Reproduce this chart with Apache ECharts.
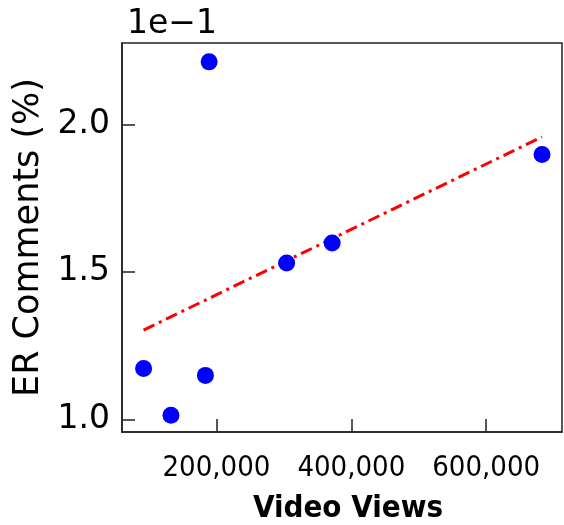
<!DOCTYPE html>
<html>
<head>
<meta charset="utf-8">
<script src="https://cdn.jsdelivr.net/npm/echarts@6/dist/echarts.min.js"></script>
<style>
  html, body { margin: 0; padding: 0; background: #fff; }
  #chart { width: 564px; height: 525px; }
</style>
</head>
<body>
<div id="chart"></div>
<script>
// Video views per video and the comment engagement rate (%)
const videoViews = [92000, 132600, 183700, 189200, 304100, 371600, 682800];
const erComments = [0.1172, 0.1014, 0.1149, 0.2212, 0.1530, 0.1598, 0.1898];

// Tick positions
const xTicks = [200000, 400000, 600000];
const yTicks = [0.10, 0.15, 0.20];

// Least-squares trend line across the observed view range
function linearFit(xs, ys) {
  const n = xs.length;
  const mx = xs.reduce((a, b) => a + b, 0) / n;
  const my = ys.reduce((a, b) => a + b, 0) / n;
  let sxy = 0, sxx = 0;
  for (let i = 0; i < n; i++) {
    sxy += (xs[i] - mx) * (ys[i] - my);
    sxx += (xs[i] - mx) * (xs[i] - mx);
  }
  const slope = sxy / sxx;
  return x => my + slope * (x - mx);
}
const fit = linearFit(videoViews, erComments);
const xLo = Math.min(...videoViews), xHi = Math.max(...videoViews);
const trend = [[xLo, fit(xLo)], [xHi, fit(xHi)]];

const points = videoViews.map((v, i) => [v, erComments[i]]);

const axisColor = '#222';
const chart = echarts.init(document.getElementById('chart'), null, { renderer: 'canvas' });
chart.setOption({
  animation: false,
  backgroundColor: '#fff',
  title: {
    text: '1e\u22121',
    left: 122,
    top: 3,
    textStyle: { fontFamily: 'DejaVu Sans', fontSize: 33, fontWeight: 'normal', color: '#000' }
  },
  grid: {
    left: 122, right: 2, top: 43, bottom: 93,
    outerBoundsMode: 'none',
    containLabel: false,
    show: true, borderColor: axisColor, borderWidth: 1.5, backgroundColor: 'transparent'
  },
  xAxis: {
    type: 'value',
    min: 60000,
    max: 712400,
    name: 'Video Views',
    nameLocation: 'middle',
    nameGap: 61,
    nameTextStyle: {
      fontFamily: "'DejaVu Sans Condensed', 'DejaVu Sans'", fontWeight: 'bold',
      fontSize: 31, color: '#000', padding: [0, 0, 0, 12]
    },
    axisLine: { show: true, onZero: false, lineStyle: { color: axisColor, width: 1.5 } },
    axisTick: { show: true, inside: true, length: 13, customValues: xTicks, lineStyle: { color: axisColor, width: 1.5 } },
    axisLabel: {
      customValues: xTicks,
      margin: 22,
      fontFamily: "'DejaVu Sans Condensed', 'DejaVu Sans'",
      fontSize: 29, color: '#000',
      formatter: v => v.toLocaleString('en-US')
    },
    splitLine: { show: false }
  },
  yAxis: {
    type: 'value',
    min: 0.0957,
    max: 0.2276,
    name: 'ER Comments (%)',
    nameLocation: 'middle',
    nameGap: 75,
    nameTextStyle: { fontFamily: 'DejaVu Sans', fontSize: 35, color: '#000' },
    axisLine: { show: true, onZero: false, lineStyle: { color: axisColor, width: 1.5 } },
    axisTick: { show: true, inside: true, length: 13, customValues: yTicks, lineStyle: { color: axisColor, width: 1.5 } },
    axisLabel: {
      customValues: yTicks,
      margin: 12,
      fontFamily: 'DejaVu Sans', fontSize: 33, color: '#000',
      formatter: v => (v * 10).toFixed(1)
    },
    splitLine: { show: false }
  },
  series: [
    {
      type: 'line',
      data: trend,
      symbol: 'none',
      z: 3,
      lineStyle: { color: '#ff0000', width: 3, type: [12, 5, 3, 5] }
    },
    {
      type: 'scatter',
      data: points,
      symbol: 'circle',
      symbolSize: 17,
      z: 4,
      itemStyle: { color: '#0000ff', opacity: 1 }
    }
  ]
});
</script>
</body>
</html>
